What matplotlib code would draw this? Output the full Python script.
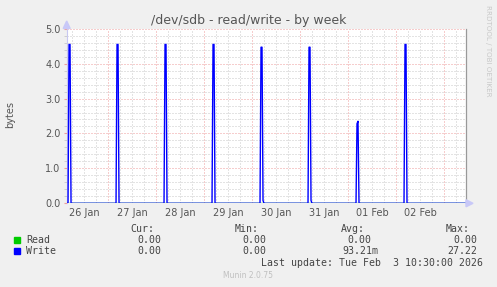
import numpy as np
import matplotlib
matplotlib.use("Agg")
import matplotlib.pyplot as plt
import matplotlib.dates as mdates
from matplotlib.patches import Rectangle, Polygon
from datetime import datetime, timedelta

# ---- data ----
t_start = datetime(2026, 1, 26, 3, 20)
t_end = datetime(2026, 2, 3, 11, 0)

# write spikes: two 30-min samples each morning
spike_times = ["2026-01-26 04:30", "2026-01-26 05:00",
               "2026-01-27 04:30", "2026-01-27 05:00",
               "2026-01-28 04:30", "2026-01-28 05:00",
               "2026-01-29 04:30", "2026-01-29 05:00",
               "2026-01-30 04:30", "2026-01-30 05:00", "2026-01-30 05:30",
               "2026-01-31 04:30", "2026-01-31 05:00", "2026-01-31 05:30",
               "2026-02-01 04:30", "2026-02-01 05:00",
               "2026-02-02 04:30", "2026-02-02 05:00"]
spike_values = [4.55, 4.55,
                4.55, 4.55,
                4.55, 4.55,
                4.55, 4.55,
                4.47, 4.47, 0.08,
                4.47, 4.47, 0.08,
                2.28, 2.35,
                4.55, 4.55]

day_labels = ["26 Jan", "27 Jan", "28 Jan", "29 Jan", "30 Jan", "31 Jan", "01 Feb", "02 Feb"]
series = ["Read", "Write"]
series_colors = ["#00CC00", "#0000FF"]
cur_vals = ["0.00", "0.00"]
min_vals = ["0.00", "0.00"]
avg_vals = ["0.00", "93.21m"]
max_vals = ["0.00", "27.22"]

# 30-minute samples, zero except the spikes
times = [datetime(2026, 1, 26, 3, 30) + timedelta(minutes=30 * i) for i in range(400)]
times = [t for t in times if t <= t_end]
write = np.zeros(len(times))
idx = {t: i for i, t in enumerate(times)}
for ts, v in zip(spike_times, spike_values):
    write[idx[datetime.strptime(ts, "%Y-%m-%d %H:%M")]] = v
read = np.zeros(len(times))

W, H = 497, 287
def fx(x):
    return x / W
def fy(y):
    return 1 - y / H

BG = "#F0F0F0"
TXT = "#555555"
MAJ = "#EE9C9C"
MIN = "#C8C8C8"
fig = plt.figure(figsize=(W / 100, H / 100), dpi=100, facecolor=BG)
L, R, T, B = 66.7, 466.0, 28.7, 203.3
ax = fig.add_axes([fx(L), fy(B), fx(R - L), (B - T) / H])
ax.set_facecolor("white")
ax.set_xlim(t_start, t_end)
ax.set_ylim(0, 5.0)

# grid
d = datetime(2026, 1, 26)
while d <= t_end:
    for h in range(0, 24, 6):
        g = d + timedelta(hours=h)
        if t_start < g < t_end:
            ax.axvline(g, color=MAJ if h == 0 else MIN, lw=0.72, ls=(0, (1, 2)), zorder=1)
    d += timedelta(days=1)
for v in np.arange(0.2, 5.01, 0.2):
    col = MAJ if abs(v - round(v)) < 1e-6 else MIN
    ax.axhline(v, color=col, lw=0.72, ls=(0, (1, 2)), zorder=1)

ax.plot(times, read, color=series_colors[0], lw=1.0, zorder=3)
ax.plot(times, write, color=series_colors[1], lw=1.0, zorder=4)

# ticks
noon = [datetime(2026, 1, 26, 12) + timedelta(days=i) for i in range(len(day_labels))]
ax.set_xticks(noon)
ax.set_xticklabels(day_labels)
ax.tick_params(axis="x", length=0, pad=3.4, labelsize=7, labelcolor=TXT)
ax.set_yticks(np.arange(0, 5.01, 1.0))
ax.set_yticklabels(["%.1f" % v for v in np.arange(0, 5.01, 1.0)])
ax.set_yticks(np.arange(0, 5.01, 0.2), minor=True)
ax.tick_params(axis="y", which="major", length=2, color=MAJ, pad=2.4,
               labelsize=7, labelcolor=TXT)
ax.tick_params(axis="y", which="minor", length=2, color=MIN)

for s in ["top", "bottom"]:
    ax.spines[s].set_visible(False)
ax.spines["left"].set_color("#C8C8F0")
ax.spines["left"].set_linewidth(0.8)
ax.spines["right"].set_color("#999999")
ax.spines["right"].set_linewidth(0.9)

# axis arrows
fig.add_artist(Polygon([(fx(L - 3.5), fy(28.5)), (fx(L + 3.5), fy(28.5)), (fx(L), fy(21))],
                       closed=True, color="#C8C8F8", transform=fig.transFigure))
fig.add_artist(Polygon([(fx(R), fy(B - 3.5)), (fx(R), fy(B + 3.5)), (fx(R + 7), fy(B))],
                       closed=True, color="#C8C8F8", transform=fig.transFigure))

# titles
fig.text(fx(248.5), fy(24), "/dev/sdb - read/write - by week", ha="center", va="baseline",
         fontsize=9, color=TXT)
fig.text(fx(10.5), fy(114.5), "bytes", rotation=90, ha="center", va="center",
         fontsize=7, color=TXT)
fig.text(fx(488), fy(5), "RRDTOOL / TOBI OETIKER", rotation=270, ha="center", va="top",
         fontsize=5.1, color="#C8C8C8")

# legend block
mono = dict(family="DejaVu Sans Mono", fontsize=7.1, color="#444444", va="baseline")
for x, lab in zip([154, 259, 365, 470], ["Cur:", "Min:", "Avg:", "Max:"]):
    fig.text(fx(x), fy(231.5), lab, ha="right", **mono)
row_y = [243, 254.3]
for i, name in enumerate(series):
    y = row_y[i]
    fig.add_artist(Rectangle((fx(14), fy(y)), fx(6), 6 / H, color=series_colors[i],
                             transform=fig.transFigure))
    fig.text(fx(26.3), fy(y), name, ha="left", **mono)
    fig.text(fx(161), fy(y), cur_vals[i], ha="right", **mono)
    fig.text(fx(266), fy(y), min_vals[i], ha="right", **mono)
    ax_x = 378 if avg_vals[i].endswith("m") else 371
    fig.text(fx(ax_x), fy(y), avg_vals[i], ha="right", **mono)
    fig.text(fx(477), fy(y), max_vals[i], ha="right", **mono)
fig.text(fx(483), fy(266), "Last update: Tue Feb  3 10:30:00 2026", ha="right", **mono)
fig.text(fx(248), fy(278.3), "Munin 2.0.75", ha="center", va="baseline",
         fontsize=5.5, color="#C0C0C0")

fig.savefig("out.png", dpi=100, facecolor=BG)
